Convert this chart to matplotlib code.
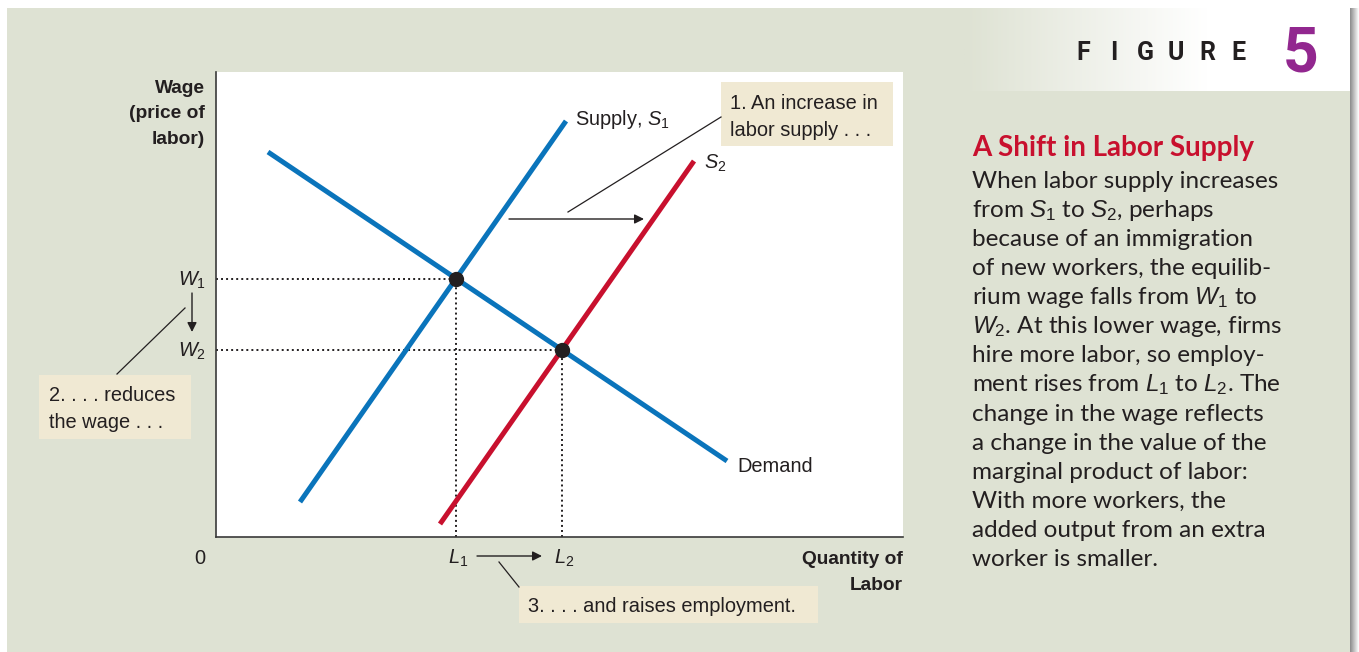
import matplotlib
matplotlib.use('Agg')
import matplotlib.pyplot as plt
from matplotlib import font_manager
from matplotlib.patches import Rectangle
import numpy as np

installed = {f.name for f in font_manager.fontManager.ttflist}


def pick(*names):
    for n in names:
        if n in installed:
            return n
    return 'DejaVu Sans'


LABEL_FONT = pick('Liberation Sans', 'Roboto', 'DejaVu Sans')
BODY_FONT = pick('Lato', 'Open Sans', 'DejaVu Sans')
HEAD_FONT = pick('Roboto', 'Open Sans', 'DejaVu Sans')

plt.rcParams['mathtext.fontset'] = 'custom'
plt.rcParams['mathtext.rm'] = LABEL_FONT
plt.rcParams['mathtext.it'] = LABEL_FONT + ':italic'

# Curves: quantity of labor vs wage (arbitrary units, origin at the axes corner)
demand_q = [52, 511]
demand_w = [385, 76]
supply1_q = [84, 350]
supply1_w = [35, 416]
supply2_q = [224, 478]
supply2_w = [13, 376]

caption_title = 'A Shift in Labor Supply'
caption_lines = [
    'When labor supply increases',
    r'from $S_1$ to $S_2$, perhaps',
    'because of an immigration',
    'of new workers, the equilib-',
    r'rium wage falls from $W_1$ to',
    r'$W_2$. At this lower wage, firms',
    'hire more labor, so employ-',
    r'ment rises from $L_1$ to $L_2$. The',
    'change in the wage reflects',
    'a change in the value of the',
    'marginal product of labor:',
    'With more workers, the',
    'added output from an extra',
    'worker is smaller.',
]

INK = '#231f20'
BLUE = '#0a74bb'
RED = '#c8102e'
PANEL = '#dee2d3'
BOX = '#f0e9d3'


def crossing(qa, wa, qb, wb):
    ma = (wa[1] - wa[0]) / (qa[1] - qa[0])
    mb = (wb[1] - wb[0]) / (qb[1] - qb[0])
    ba = wa[0] - ma * qa[0]
    bb = wb[0] - mb * qb[0]
    q = (bb - ba) / (ma - mb)
    return q, ma * q + ba


L1, W1 = crossing(supply1_q, supply1_w, demand_q, demand_w)
L2, W2 = crossing(supply2_q, supply2_w, demand_q, demand_w)

W_PX, H_PX = 1359, 652
fig = plt.figure(figsize=(W_PX / 100, H_PX / 100), dpi=100)
fig.patch.set_facecolor('white')

# background layer in pixel coordinates
bg = fig.add_axes([0, 0, 1, 1], zorder=0)
bg.add_patch(Rectangle((7, 8), 1343, 644, color=PANEL, lw=0))
panel_rgb = np.array(matplotlib.colors.to_rgb(PANEL))
ramp = np.clip(np.linspace(0, 1.6, 200), 0, 1)
head = panel_rgb[None, :] * (1 - ramp[:, None]) + ramp[:, None]
bg.imshow(head[None, :, :], extent=[964, 1352, 91, 8], aspect='auto', zorder=1)
shade = np.linspace(0.55, 1.0, 20)
bg.imshow(np.repeat(shade[None, :, None], 3, axis=2), extent=[1350, 1359, 652, 8],
          aspect='auto', zorder=1)
bg.set_xlim(0, W_PX)
bg.set_ylim(H_PX, 0)
bg.axis('off')

# the diagram
ax = fig.add_axes([216 / W_PX, (H_PX - 537) / H_PX, 687 / W_PX, 465 / H_PX], zorder=1)
ax.set_facecolor('white')
ax.set_xlim(0, 687)
ax.set_ylim(0, 465)
for side in ['top', 'right']:
    ax.spines[side].set_visible(False)
for side in ['left', 'bottom']:
    ax.spines[side].set_color('#3a3a3a')
    ax.spines[side].set_linewidth(1.2)
ax.set_xticks([])
ax.set_yticks([])

dot = dict(color=INK, lw=1.4, linestyle=(0, (1, 1.6)), zorder=2)
ax.plot([0, L1], [W1, W1], **dot)
ax.plot([L1, L1], [0, W1], **dot)
ax.plot([0, L2], [W2, W2], **dot)
ax.plot([L2, L2], [0, W2], **dot)

ax.plot(supply1_q, supply1_w, color=BLUE, lw=3.6, solid_capstyle='butt', zorder=3)
ax.plot(demand_q, demand_w, color=BLUE, lw=3.6, solid_capstyle='butt', zorder=3)
ax.plot(supply2_q, supply2_w, color=RED, lw=3.6, solid_capstyle='butt', zorder=3)
ax.plot([L1, L2], [W1, W2], 'o', color=INK, markersize=10, zorder=4)

# annotation layer in pixel coordinates
top = fig.add_axes([0, 0, 1, 1], zorder=2)
top.patch.set_visible(False)
top.set_xlim(0, W_PX)
top.set_ylim(H_PX, 0)
top.axis('off')


def to_px(q, w):
    return top.transData.inverted().transform(ax.transData.transform((q, w)))


lab = dict(family=[LABEL_FONT, 'DejaVu Sans'], color=INK, fontsize=14.4)
bold = dict(family=[LABEL_FONT, 'DejaVu Sans'], color=INK, fontsize=13.8, weight='bold')

for txt, y in zip(['Wage', '(price of', 'labor)'], [93, 118, 144]):
    top.text(205, y, txt, ha='right', va='baseline', **bold)
top.text(903, 564, 'Quantity of', ha='right', va='baseline', **bold)
top.text(903, 590, 'Labor', ha='right', va='baseline', **bold)

top.text(200, 564, '0', ha='center', va='baseline', **lab)
for name, w in [('$W_1$', W1), ('$W_2$', W2)]:
    _, py = to_px(0, w)
    top.text(206, py + 7, name, ha='right', va='baseline', **lab)
for name, q in [('$L_1$', L1), ('$L_2$', L2)]:
    px, _ = to_px(q, 0)
    top.text(px + 2, 564, name, ha='center', va='baseline', **lab)

sx, sy = to_px(supply1_q[1], supply1_w[1])
top.text(sx + 9, sy + 4, 'Supply, $S_1$', ha='left', va='baseline', **lab)
sx, sy = to_px(supply2_q[1], supply2_w[1])
top.text(sx + 10, sy + 8, '$S_2$', ha='left', va='baseline', **lab)
dx, dy = to_px(demand_q[1], demand_w[1])
top.text(dx + 10, dy + 11, 'Demand', ha='left', va='baseline', **lab)

# callout boxes
boxes = [
    ((721, 82, 172, 64), ['1. An increase in', 'labor supply . . .'], 730, [109, 136]),
    ((39, 375, 152, 64), ['2. . . . reduces', 'the wage . . .'], 49, [401, 428]),
    ((519, 586, 299, 37), ['3. . . . and raises employment.'], 528, [612]),
]
for (x0, y0, bw, bh), texts, tx, tys in boxes:
    top.add_patch(Rectangle((x0, y0), bw, bh, color=BOX, lw=0))
    for t, ty in zip(texts, tys):
        top.text(tx, ty, t, ha='left', va='baseline', **lab)

thin = dict(color=INK, lw=0.9)
top.plot([721, 568], [117, 212], **thin)
top.plot([185, 117], [308, 374], **thin)
top.plot([499, 519], [562, 587], **thin)

arrow = dict(arrowstyle='-|>', mutation_scale=14, lw=1.0, color=INK, shrinkA=0, shrinkB=0)
top.annotate('', xy=(644, 219), xytext=(509, 219), arrowprops=arrow)
top.annotate('', xy=(192, 332), xytext=(192, 293), arrowprops=arrow)
top.annotate('', xy=(542, 556), xytext=(477, 556), arrowprops=arrow)

# figure header and caption
for i, ch in enumerate('FIGURE'):
    top.text(1083 + 31 * i, 60, ch, ha='center', va='baseline', family=HEAD_FONT,
             fontsize=18, weight='bold', color=INK)
top.text(1301, 72, '5', ha='center', va='baseline', family=HEAD_FONT,
         fontsize=45, weight='bold', color='#92278f')

top.text(972, 156, caption_title, ha='left', va='baseline', family=BODY_FONT,
         fontsize=20, weight='bold', color=RED)
for i, line in enumerate(caption_lines):
    top.text(972, 188 + 29.08 * i, line, ha='left', va='baseline',
             family=[BODY_FONT, 'DejaVu Sans'], fontsize=17.5, color=INK)

fig.savefig('out.png', dpi=100, facecolor=fig.get_facecolor())
